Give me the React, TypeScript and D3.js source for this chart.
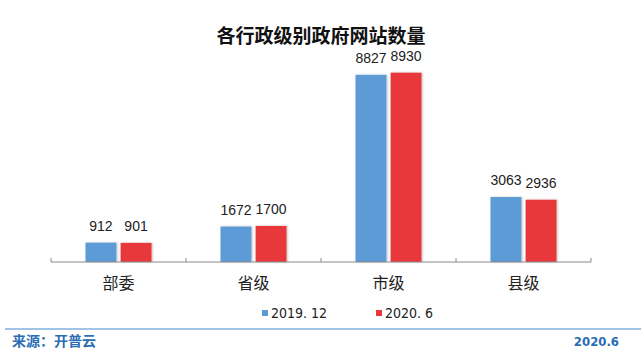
import * as d3 from "d3";
import { useEffect, useRef } from "react";

const categories = ["部委", "省级", "市级", "县级"];
const seriesNames = ["2019. 12", "2020. 6"];
const values2019 = [912, 1672, 8827, 3063];
const values2020 = [901, 1700, 8930, 2936];
const colors = ["#5b9bd5", "#e8383b"];

const App = () => {
  const ref = useRef<SVGSVGElement | null>(null);

  useEffect(() => {
    if (!ref.current) return;
    const svg = d3.select(ref.current);
    svg.selectAll("*").remove();

    const width = 641;
    const height = 351;
    const font = "'Noto Sans CJK SC', 'Noto Sans', sans-serif";

    svg.attr("width", width).attr("height", height);

    // title
    svg
      .append("text")
      .attr("x", 321)
      .attr("y", 43)
      .attr("text-anchor", "middle")
      .attr("font-family", font)
      .attr("font-weight", "bold")
      .attr("font-size", 19)
      .attr("fill", "#111")
      .text("各行政级别政府网站数量");

    const x = d3.scaleBand().domain(categories).range([51, 591]);
    const y = d3.scaleLinear().domain([0, 10000]).range([262, 50]);

    const inner = d3
      .scaleBand()
      .domain(seriesNames)
      .range([0, 66])
      .paddingInner(0.12);

    const rows = categories.map((c, i) => ({
      cat: c,
      vals: [values2019[i], values2020[i]],
    }));

    const defs = svg.append("defs");
    const filter = defs
      .append("filter")
      .attr("id", "shadow")
      .attr("x", "-20%")
      .attr("y", "-5%")
      .attr("width", "140%")
      .attr("height", "110%");
    filter
      .append("feDropShadow")
      .attr("dx", 1)
      .attr("dy", 0)
      .attr("stdDeviation", 1.2)
      .attr("flood-color", "#000")
      .attr("flood-opacity", 0.25);

    const groups = svg
      .selectAll("g.grp")
      .data(rows)
      .enter()
      .append("g")
      .attr("class", "grp")
      .attr(
        "transform",
        (d) => `translate(${x(d.cat)! + (x.bandwidth() - 66) / 2},0)`
      );

    groups
      .selectAll("rect")
      .data((d) => d.vals.map((v, j) => ({ v, s: seriesNames[j], j })))
      .enter()
      .append("rect")
      .attr("x", (d) => inner(d.s)!)
      .attr("y", (d) => y(d.v))
      .attr("width", inner.bandwidth())
      .attr("height", (d) => y(0) - y(d.v))
      .attr("fill", (d) => colors[d.j])
      .attr("filter", "url(#shadow)");

    groups
      .selectAll("text")
      .data((d) => d.vals.map((v, j) => ({ v, s: seriesNames[j] })))
      .enter()
      .append("text")
      .attr("x", (d) => inner(d.s)! + inner.bandwidth() / 2)
      .attr("y", (d) => y(d.v) - 12)
      .attr("text-anchor", "middle")
      .attr("font-family", "'Liberation Sans', Arial, sans-serif")
      .attr("font-size", 14)
      .attr("fill", "#222")
      .text((d) => d.v);

    // x axis
    const axis = svg.append("g").attr("transform", `translate(0,${y(0)})`);
    axis
      .append("line")
      .attr("x1", 51)
      .attr("x2", 591)
      .attr("stroke", "#8a8a8a")
      .attr("stroke-width", 1.2);
    const tickPos = categories.map((c) => x(c)!).concat([591]);
    axis
      .selectAll("line.tick")
      .data(tickPos)
      .enter()
      .append("line")
      .attr("class", "tick")
      .attr("x1", (d) => d)
      .attr("x2", (d) => d)
      .attr("y1", 0)
      .attr("y2", -4)
      .attr("stroke", "#8a8a8a");
    axis
      .selectAll("text")
      .data(categories)
      .enter()
      .append("text")
      .attr("x", (d) => x(d)! + x.bandwidth() / 2)
      .attr("y", 27)
      .attr("text-anchor", "middle")
      .attr("font-family", font)
      .attr("font-size", 16)
      .attr("fill", "#222")
      .text((d) => d);

    // legend
    const legendX = [262, 376];
    const legend = svg
      .selectAll("g.leg")
      .data(seriesNames)
      .enter()
      .append("g")
      .attr("class", "leg")
      .attr("transform", (_d, i) => `translate(${legendX[i]},313)`);
    legend
      .append("rect")
      .attr("x", 0)
      .attr("y", -3)
      .attr("width", 6)
      .attr("height", 6)
      .attr("fill", (_d, i) => colors[i]);
    legend
      .append("text")
      .attr("x", 9)
      .attr("y", 5)
      .attr("font-family", "'DejaVu Sans Condensed', 'Noto Sans', sans-serif")
      .attr("font-size", 14)
      .attr("fill", "#222")
      .text((d) => d);

    // footer
    svg
      .append("line")
      .attr("x1", 5)
      .attr("x2", 641)
      .attr("y1", 329)
      .attr("y2", 329)
      .attr("stroke", "#7fb0e0")
      .attr("stroke-width", 1.5);
    svg
      .append("text")
      .attr("x", 12)
      .attr("y", 346)
      .attr("font-family", font)
      .attr("font-weight", "bold")
      .attr("font-size", 14)
      .attr("fill", "#2a6db5")
      .text("来源：开普云");
    svg
      .append("text")
      .attr("x", 619)
      .attr("y", 346)
      .attr("text-anchor", "end")
      .attr("font-family", "'DejaVu Sans Condensed', sans-serif")
      .attr("font-weight", "bold")
      .attr("font-size", 13)
      .attr("fill", "#2a6db5")
      .text("2020.6");
  }, []);

  return (
    <svg
      ref={ref}
      style={{ position: "absolute", left: 0, top: 0, display: "block" }}
    ></svg>
  );
};

export default App;
